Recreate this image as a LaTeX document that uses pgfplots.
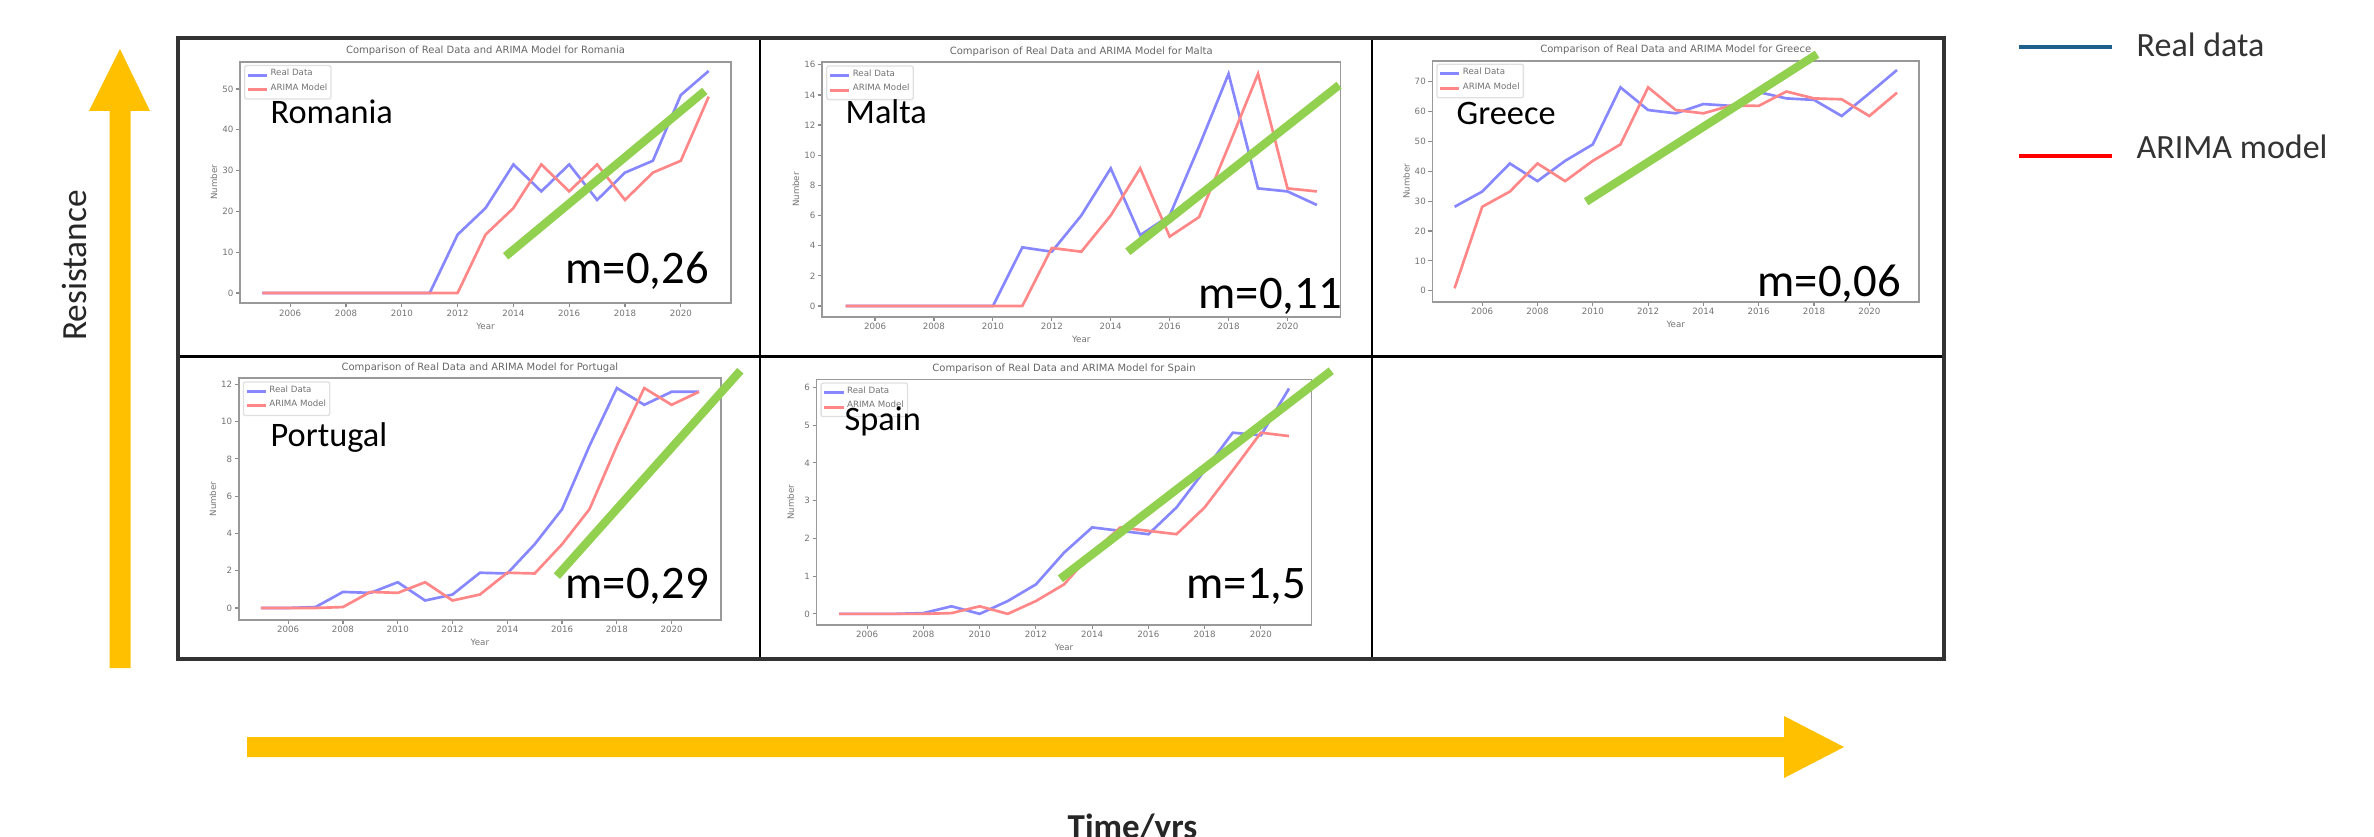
\documentclass[border=0pt]{standalone}
\usepackage{pgfplots}
\usepackage{pgfplotstable}
\pgfplotsset{compat=1.18}
\usepackage{fontspec}
\setmainfont{Carlito}
\newfontfamily\mpl{DejaVu Sans}

\definecolor{mblue}{RGB}{135,135,255}
\definecolor{mred}{RGB}{255,135,135}
\definecolor{trend}{RGB}{146,208,80}
\definecolor{gold}{RGB}{255,192,0}
\definecolor{keyblue}{RGB}{31,96,140}
\newcommand\tinyfont{\mpl\fontsize{2.6}{3}\selectfont}
\newcommand\titlefont{\mpl\fontsize{3}{3.5}\selectfont}

% year, real data, ARIMA model
\pgfplotstableread{
year real arima
2005 0 0
2006 0 0
2007 0 0
2008 0 0
2009 0 0
2010 0 0
2011 0 0
2012 14.3 0
2013 20.8 14.3
2014 31.5 20.8
2015 24.9 31.5
2016 31.5 24.9
2017 22.8 31.5
2018 29.5 22.8
2019 32.4 29.5
2020 48.5 32.4
2021 54.4 48.1
}\romania
\pgfplotstableread{
year real arima
2005 0 0
2006 0 0
2007 0 0
2008 0 0
2009 0 0
2010 0 0
2011 3.89 0
2012 3.6 3.85
2013 6.0 3.6
2014 9.13 6.0
2015 4.7 9.13
2016 6.0 4.6
2017 10.6 5.9
2018 15.4 10.6
2019 7.8 15.4
2020 7.6 7.8
2021 6.7 7.6
}\malta
\pgfplotstableread{
year real arima
2005 28.1 0.8
2006 33.2 28.1
2007 42.6 33.2
2008 36.7 42.6
2009 43.5 36.7
2010 49.0 43.5
2011 68.1 49.0
2012 60.5 68.1
2013 59.4 60.5
2014 62.5 59.4
2015 61.9 62.0
2016 66.5 61.9
2017 64.4 66.7
2018 63.9 64.4
2019 58.5 64.1
2020 66.1 58.5
2021 73.9 66.3
}\greece
\pgfplotstableread{
year real arima
2005 0 0
2006 0 0
2007 0.05 0
2008 0.86 0.05
2009 0.81 0.86
2010 1.38 0.81
2011 0.4 1.38
2012 0.72 0.4
2013 1.89 0.72
2014 1.85 1.89
2015 3.42 1.85
2016 5.3 3.42
2017 8.7 5.3
2018 11.8 8.7
2019 10.9 11.8
2020 11.6 10.9
2021 11.6 11.6
}\portugal
\pgfplotstableread{
year real arima
2005 0 0
2006 0 0
2007 0 0
2008 0.02 0
2009 0.2 0.02
2010 0.0 0.2
2011 0.34 0.0
2012 0.78 0.34
2013 1.62 0.78
2014 2.29 1.62
2015 2.2 2.29
2016 2.11 2.2
2017 2.82 2.11
2018 3.8 2.82
2019 4.8 3.8
2020 4.73 4.8
2021 5.97 4.71
}\spain

\pgfplotsset{
  panel/.style={
    scale only axis,
    xmin=2004.2, xmax=2021.8,
    xtick={2006,2008,...,2020},
    axis line style={black!40, line width=0.55pt},
    tick style={black!45, line width=0.35pt},
    tick align=outside, major tick length=1.2pt,
    tick pos=left,
    ticklabel style={font=\tinyfont, text=black!55, inner sep=0.6pt},
    /pgf/number format/assume math mode=true,
    /pgf/number format/1000 sep={},
    xlabel={Year}, ylabel={Number},
    label style={font=\tinyfont, text=black!55},
    xlabel style={at={(axis description cs:0.5,0)}, anchor=center, yshift=-6.9pt},
    ylabel style={at={([xshift=-7.8pt]axis description cs:0,0.5)}, anchor=center},
    every axis title shift=0pt,
    title style={font=\titlefont, text=black!60, inner sep=0pt, yshift=1.6pt},
    clip=false,
    legend style={at={(axis description cs:0.008,0.988)}, anchor=north west,
      draw=black!12, rounded corners=0.6pt, inner sep=0.5pt,
      font=\tinyfont, text=black!55, row sep=-0.3pt, nodes={inner sep=0.6pt}},
    legend cell align=left,
    legend image code/.code={\draw[##1, line width=0.9pt] (0pt,0pt) -- (5.8pt,0pt);},
  },
  real/.style={mblue, line width=0.8pt, no markers},
  arima/.style={mred, line width=0.8pt, no markers},
  trendline/.style={trend, line width=2.5pt, no markers, forget plot},
}

\begin{document}
\begin{tikzpicture}
\path[clip, use as bounding box] (0pt,0pt) rectangle (712.2pt,-251.1pt);

% frame of the grid, anchors of the panels (pixel units)
\begin{scope}[x=0.3pt, y=-0.3pt]
  \draw[black, line width=0.8pt] (178,356.5) -- (1944,356.5);
  \draw[black, line width=0.8pt] (760,38) -- (760,659);
  \draw[black, line width=0.8pt] (1372,38) -- (1372,659);
  \draw[black!80, line width=1.2pt] (178,38) rectangle (1944,659);
  \coordinate (pRO) at (240,303);
  \coordinate (pMT) at (822,316.7);
  \coordinate (pGR) at (1432.4,301.7);
  \coordinate (pPT) at (238.9,619.7);
  \coordinate (pES) at (816.5,624.8);
\end{scope}

\begin{axis}[panel, at={(pRO)}, anchor=south west, width=147.3pt, height=72.3pt,
  ymin=-2.45, ymax=56.6, ytick={0,10,...,50},
  title={Comparison of Real Data and ARIMA Model for Romania}]
  \addplot[real] table[x=year, y=real] {\romania};
  \addlegendentry{Real Data}
  \addplot[arima] table[x=year, y=arima] {\romania};
  \addlegendentry{ARIMA Model}
  \addplot[trendline] coordinates {(2013.72,9.0) (2020.86,49.5)};
\end{axis}

\begin{axis}[panel, at={(pMT)}, anchor=south west, width=155.55pt, height=76.3pt,
  ymin=-0.71, ymax=16.16, ytick={0,2,...,16},
  title={Comparison of Real Data and ARIMA Model for Malta}]
  \addplot[real] table[x=year, y=real] {\malta};
  \addlegendentry{Real Data}
  \addplot[arima] table[x=year, y=arima] {\malta};
  \addlegendentry{ARIMA Model}
  \addplot[trendline] coordinates {(2014.58,3.6) (2021.75,14.65)};
\end{axis}

\begin{axis}[panel, at={(pGR)}, anchor=south west, width=146pt, height=72.3pt,
  ymin=-3.68, ymax=77.03, ytick={0,10,...,70},
  title={Comparison of Real Data and ARIMA Model for Greece}]
  \addplot[real] table[x=year, y=real] {\greece};
  \addlegendentry{Real Data}
  \addplot[arima] table[x=year, y=arima] {\greece};
  \addlegendentry{ARIMA Model}
  \addplot[trendline] coordinates {(2009.76,29.8) (2018.11,79.2)};
\end{axis}

\begin{axis}[panel, at={(pPT)}, anchor=south west, width=144.6pt, height=72.4pt,
  ymin=-0.63, ymax=12.32, ytick={0,2,...,12},
  title={Comparison of Real Data and ARIMA Model for Portugal}]
  \addplot[real] table[x=year, y=real] {\portugal};
  \addlegendentry{Real Data}
  \addplot[arima] table[x=year, y=arima] {\portugal};
  \addlegendentry{ARIMA Model}
  \addplot[trendline] coordinates {(2015.81,1.71) (2022.51,12.73)};
\end{axis}

\begin{axis}[panel, at={(pES)}, anchor=south west, width=148.5pt, height=73.6pt,
  ymin=-0.29, ymax=6.21, ytick={0,...,6},
  title={Comparison of Real Data and ARIMA Model for Spain}]
  \addplot[real] table[x=year, y=real] {\spain};
  \addlegendentry{Real Data}
  \addplot[arima] table[x=year, y=arima] {\spain};
  \addlegendentry{ARIMA Model}
  \addplot[trendline] coordinates {(2012.87,0.93) (2022.5,6.44)};
\end{axis}

% annotations, arrows and key (pixel units)
\begin{scope}[x=0.3pt, y=-0.3pt, every node/.style={inner sep=0pt}]
  \tikzset{cname/.style={anchor=base west, font=\fontsize{10.3}{12}\selectfont},
           slope/.style={anchor=base west, font=\fontsize{14}{16}\selectfont}}
  \node[cname] at (270,124) {Romania};
  \node[cname] at (845,124) {Malta};
  \node[cname] at (1456,124.3) {Greece};
  \node[cname] at (270,446.2) {Portugal};
  \node[cname] at (844,430.4) {Spain};
  \node[slope] at (565,283) {m=0,26};
  \node[slope] at (1198,308) {m=0,11};
  \node[slope] at (1757,296.7) {m=0,06};
  \node[slope] at (565,598) {m=0,29};
  \node[slope] at (1186,598) {m=1,5};

  \fill[gold] (109.5,668) -- (109.5,111) -- (89,111) -- (120,49) -- (150,111)
    -- (130.5,111) -- (130.5,668) -- cycle;
  \fill[gold] (247,737) -- (1784,737) -- (1784,716) -- (1844,747) -- (1784,778)
    -- (1784,757) -- (247,757) -- cycle;
  \node[rotate=90, anchor=base, text=black!85, font=\fontsize{10.6}{12}\selectfont]
    at (86,265.5) {Resistance};
  \node[anchor=base west, text=black!85, font=\bfseries\fontsize{10.5}{12}\selectfont]
    at (1067,838) {Time/yrs};

  \draw[keyblue, line width=1.2pt] (2019,47) -- (2112,47);
  \node[anchor=base west, text=black!80, font=\fontsize{10.2}{12}\selectfont]
    at (2136,57) {Real data};
  \draw[red, line width=1.2pt] (2019,156) -- (2112,156);
  \node[anchor=base west, text=black!80, font=\fontsize{10.2}{12}\selectfont]
    at (2136,159) {ARIMA model};
\end{scope}
\end{tikzpicture}
\end{document}
